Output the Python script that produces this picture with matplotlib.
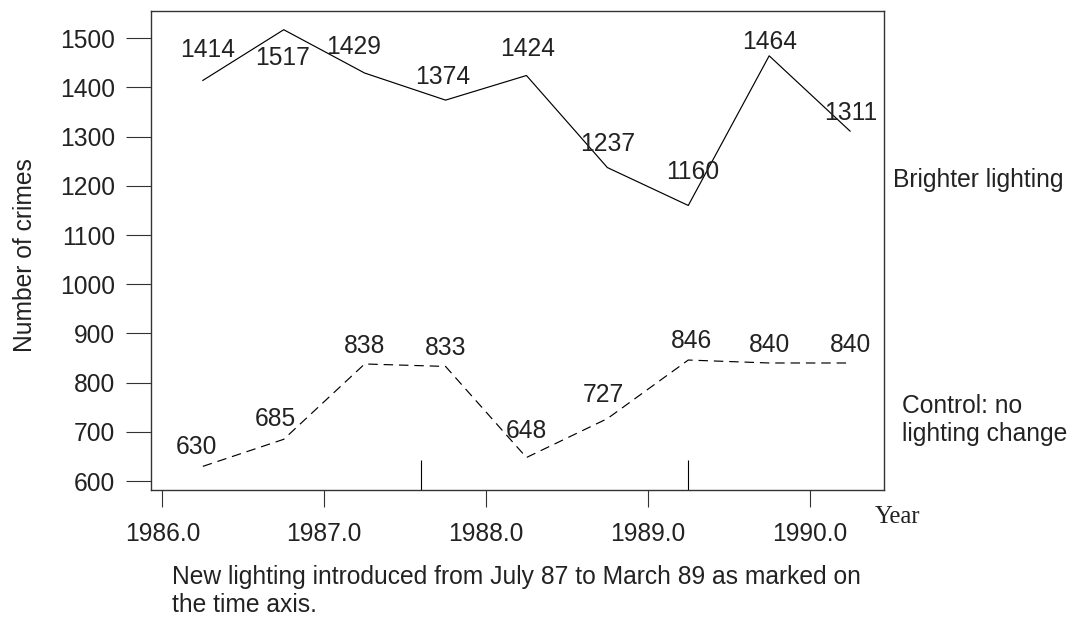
import matplotlib
matplotlib.use("Agg")
import matplotlib.pyplot as plt

# half-year periods
years = [1986.25, 1986.75, 1987.25, 1987.75, 1988.25, 1988.75, 1989.25, 1989.75, 1990.25]
brighter = [1414, 1517, 1429, 1374, 1424, 1237, 1160, 1464, 1311]
control = [630, 685, 838, 833, 648, 727, 846, 840, 840]
# label offsets in pixels (dx, dy)
brighter_off = [(5, 30), (-1, -28), (-11, 26), (-3, 23), (1, 27), (0, 24), (4, 33), (0, 14), (1, 18)]
control_off = [(-6, 19), (-8, 20), (0, 18), (0, 18), (0, 27), (-4, 24), (3, 19), (0, 18), (0, 18)]
lighting_marks = [1987.6, 1989.25]
xticks = [1986.0, 1987.0, 1988.0, 1989.0, 1990.0]
yticks = [600, 700, 800, 900, 1000, 1100, 1200, 1300, 1400, 1500]

plt.rcParams['font.family'] = ['Liberation Sans', 'DejaVu Sans']
fs = 17.7
tc = '#222222'

fig = plt.figure(figsize=(10.69, 6.19), dpi=100)
ax = fig.add_axes([0.1413, 0.2084, 0.827 - 0.1413, 0.9822 - 0.2084])
ax.set_xlim(1985.93, 1990.46)
ax.set_ylim(582, 1555)

ax.plot(years, brighter, '-', color='black', lw=0.85)
ax.plot(years, control, color='black', lw=0.85, linestyle=(0, (8, 5)))

for x, v, (dx, dy) in zip(years, brighter, brighter_off):
    ax.annotate(str(v), (x, v), xytext=(dx, dy), textcoords='offset pixels',
                ha='center', va='center', fontsize=fs, color=tc)
for x, v, (dx, dy) in zip(years, control, control_off):
    ax.annotate(str(v), (x, v), xytext=(dx, dy), textcoords='offset pixels',
                ha='center', va='center', fontsize=fs, color=tc)

ax.vlines(lighting_marks, 582, 643, color='black', lw=0.8)

for s in ax.spines.values():
    s.set_color('#333333')
    s.set_linewidth(1.0)

ax.set_xticks(xticks)
ax.set_xticklabels(['%.1f' % t for t in xticks])
ax.set_yticks(yticks)
ax.tick_params(axis='y', direction='out', length=18, width=0.8, pad=8,
               labelsize=fs, colors='#333333', labelcolor=tc)
ax.tick_params(axis='x', direction='out', length=12, width=0.8, pad=11,
               labelsize=fs, colors='#333333', labelcolor=tc)

fig.text(25 / 1069, 1 - 255 / 619, 'Number of crimes', rotation=90, ha='center', va='center',
         fontsize=fs, color=tc)
fig.text(875 / 1069, 1 - 517 / 619, 'Year', ha='left', va='center', fontsize=fs,
         family='Liberation Serif', color=tc)
fig.text(893 / 1069, 1 - 180 / 619, 'Brighter lighting', ha='left', va='center',
         fontsize=fs, color=tc)
fig.text(902 / 1069, 1 - 420 / 619, 'Control: no\nlighting change', ha='left', va='center',
         fontsize=fs, color=tc, linespacing=1.2)
fig.text(172 / 1069, 1 - 591 / 619,
         'New lighting introduced from July 87 to March 89 as marked on\nthe time axis.',
         ha='left', va='center', fontsize=fs, color=tc, linespacing=1.2)

fig.savefig('out.png', dpi=100)
